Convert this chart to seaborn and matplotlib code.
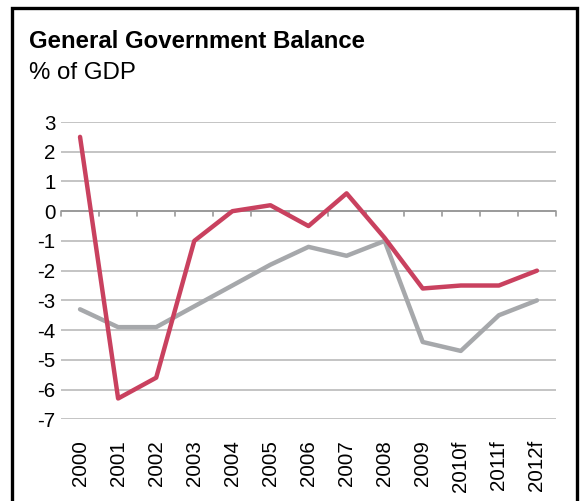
import matplotlib
matplotlib.use("Agg")
import matplotlib.pyplot as plt
import seaborn as sns
import pandas as pd
import numpy as np
from matplotlib.patches import Rectangle

years = ["2000", "2001", "2002", "2003", "2004", "2005", "2006", "2007",
         "2008", "2009", "2010f", "2011f", "2012f"]
country = [2.5, -6.3, -5.6, -1.0, 0.0, 0.2, -0.5, 0.6, -0.9, -2.6, -2.5, -2.5, -2.0]
benchmark = [-3.3, -3.9, -3.9, -3.2, -2.5, -1.8, -1.2, -1.5, -1.0, -4.4, -4.7, -3.5, -3.0]
yticks = [3, 2, 1, 0, -1, -2, -3, -4, -5, -6, -7]

sns.set_theme(style="white")
plt.rcParams['font.family'] = ['Liberation Sans', 'DejaVu Sans']

df = pd.DataFrame({"year": years * 2,
                   "value": benchmark + country,
                   "series": ["benchmark"] * len(years) + ["country"] * len(years)})
df["x"] = list(range(len(years))) * 2

W, H = 582, 501
fig = plt.figure(figsize=(W / 100, H / 100), dpi=100)
ax = fig.add_axes([61 / W, 1 - 419.3 / H, (556 - 61) / W, (419.3 - 122) / H])

for y in yticks:
    if y == 0:
        continue
    ax.axhline(y, color="#c4c4c4", lw=1.4, zorder=1)
ax.axhline(0, color="#9a9a9a", lw=1.4, zorder=1)
for b in np.arange(-0.5, len(years), 1.0):
    ax.plot([b, b], [0, -0.17], color="#9a9a9a", lw=1.2, zorder=1, clip_on=False)

sns.lineplot(data=df, x="x", y="value", hue="series",
             palette={"benchmark": "#a6a8ab", "country": "#c9415f"},
             linewidth=3.2, legend=False, ax=ax, zorder=3)

ax.set_xlim(-0.5, len(years) - 0.5)
ax.set_ylim(-7, 3)
ax.set_yticks(yticks)
ax.set_yticklabels([str(t) for t in yticks], fontsize=14.8, color="black")
ax.set_xticks(range(len(years)))
ax.set_xticklabels(years, rotation=90, fontsize=14.8, color="black")
ax.tick_params(axis="both", length=0, pad=4)
ax.tick_params(axis="x", pad=15)
ax.set_xlabel("")
ax.set_ylabel("")
for s in ax.spines.values():
    s.set_visible(False)

fig.text(29 / W, 1 - 42 / H, "General Government Balance", fontsize=17.3,
         fontweight="bold", ha="left", va="center", color="black")
fig.text(29 / W, 1 - 73 / H, "% of GDP", fontsize=17.3,
         ha="left", va="center", color="black")

fig.patches.append(Rectangle((12 / W, -0.05), (577 - 12) / W, (1 - 8 / H) + 0.05,
                             transform=fig.transFigure, fill=False,
                             edgecolor="black", lw=2.4, zorder=10))

fig.savefig("out.png", dpi=100)
